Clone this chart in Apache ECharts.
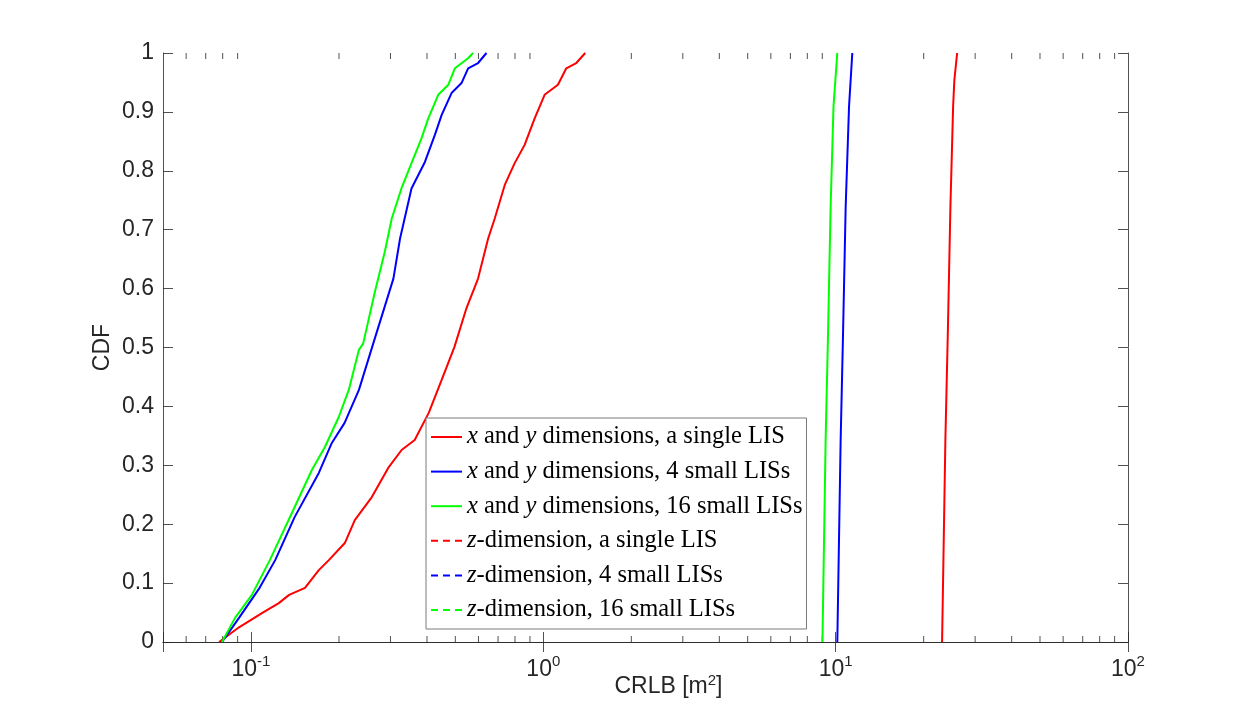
<!DOCTYPE html>
<html>
<head>
<meta charset="utf-8">
<script src="https://cdn.jsdelivr.net/npm/echarts@6/dist/echarts.min.js"></script>
<style>
  html, body { margin: 0; padding: 0; background: #fff; }
  #chart { width: 1246px; height: 721px; }
</style>
</head>
<body>
<div id="chart"></div>
<script>
// series names, in legend order
var names = [
  'x and y dimensions, a single LIS',
  'x and y dimensions, 4 small LISs',
  'x and y dimensions, 16 small LISs',
  'z-dimension, a single LIS',
  'z-dimension, 4 small LISs',
  'z-dimension, 16 small LISs'
];

// x and y dimensions (steep curves near 10 and 25)
var xySingleX = [23.12, 23.73, 24.17, 24.69, 25.22, 25.47, 26.03];
var xySingleY = [0, 0.343, 0.516, 0.739, 0.909, 0.954, 1];
var xy4X = [10.13, 10.40, 10.59, 10.82, 11.11, 11.40];
var xy4Y = [0, 0.343, 0.516, 0.739, 0.909, 1];
var xy16X = [9.01, 9.24, 9.41, 9.61, 9.83, 10.13];
var xy16Y = [0, 0.343, 0.516, 0.739, 0.909, 1];

// z-dimension
var zSingleX = [0.0778, 0.091, 0.109, 0.1245, 0.135, 0.153, 0.1706, 0.1846, 0.2094, 0.2265,
  0.259, 0.296, 0.3275, 0.363, 0.4055, 0.449, 0.4966, 0.546, 0.598, 0.6475,
  0.682, 0.738, 0.798, 0.863, 0.934, 1.01, 1.122, 1.198, 1.296, 1.391];
var zSingleY = [0, 0.025, 0.049, 0.066, 0.080, 0.092, 0.122, 0.139, 0.168, 0.207,
  0.246, 0.297, 0.326, 0.343, 0.389, 0.445, 0.501, 0.567, 0.617, 0.685,
  0.719, 0.776, 0.813, 0.844, 0.889, 0.929, 0.946, 0.974, 0.983, 1];
var z4X = [0.0796, 0.091, 0.107, 0.121, 0.141, 0.1706, 0.189, 0.209, 0.234, 0.262,
  0.307, 0.3235, 0.354, 0.3935, 0.4256, 0.449, 0.4853, 0.525, 0.553, 0.598, 0.639];
var z4Y = [0, 0.041, 0.092, 0.139, 0.212, 0.287, 0.338, 0.372, 0.428, 0.507,
  0.617, 0.685, 0.770, 0.815, 0.861, 0.895, 0.932, 0.949, 0.974, 0.983, 1];
var z16X = [0.0796, 0.0882, 0.1007, 0.116, 0.138, 0.1615, 0.179, 0.1996, 0.216, 0.234, 0.242,
  0.2655, 0.287, 0.303, 0.327, 0.354, 0.383, 0.404, 0.437, 0.473, 0.498, 0.553, 0.575];
var z16Y = [0, 0.041, 0.08, 0.139, 0.219, 0.292, 0.331, 0.382, 0.428, 0.496, 0.507,
  0.595, 0.663, 0.719, 0.770, 0.813, 0.855, 0.889, 0.929, 0.946, 0.974, 0.991, 1];

var colors = ['#ff0000', '#0000ff', '#00ff00', '#ff0000', '#0000ff', '#00ff00'];

// minor ticks of the log axis
var minorTicks = [0.06, 0.07, 0.08, 0.09,
  0.2, 0.3, 0.4, 0.5, 0.6, 0.7, 0.8, 0.9,
  2, 3, 4, 5, 6, 7, 8, 9,
  20, 30, 40, 50, 60, 70, 80, 90];

var axisColor = '#262626';
var sans = 'Liberation Sans';
var serif = 'Liberation Serif';

function pairs(xs, ys) {
  return xs.map(function (x, i) { return [x, ys[i]]; });
}

var curves = [
  pairs(xySingleX, xySingleY), pairs(xy4X, xy4Y), pairs(xy16X, xy16Y),
  pairs(zSingleX, zSingleY), pairs(z4X, z4Y), pairs(z16X, z16Y)
];

var lineSeries = names.map(function (n, i) {
  return {
    name: n,
    type: 'line',
    data: curves[i],
    symbol: 'none',
    xAxisIndex: 0,
    yAxisIndex: 0,
    lineStyle: { color: colors[i], width: 2 },
    itemStyle: { color: colors[i] },
    z: 3
  };
});

var minorSeries = {
  type: 'custom',
  silent: true,
  xAxisIndex: 0,
  yAxisIndex: 0,
  data: minorTicks.map(function (v) { return [v, 0]; }),
  encode: { x: 0, y: 1 },
  renderItem: function (params, api) {
    var v = api.value(0);
    var b = api.coord([v, 0]);
    var t = api.coord([v, 1]);
    var st = { stroke: axisColor, lineWidth: 0.8 };
    return {
      type: 'group',
      children: [
        { type: 'line', shape: { x1: b[0], y1: b[1], x2: b[0], y2: b[1] - 6 }, style: st },
        { type: 'line', shape: { x1: t[0], y1: t[1], x2: t[0], y2: t[1] + 6 }, style: st }
      ]
    };
  },
  z: 1
};

var legendData = names.map(function (n, i) {
  var item = { name: n };
  if (i >= 3) item.lineStyle = { type: [7, 5], width: 2, color: colors[i] };
  return item;
});

function logLabel(v) {
  var l = Math.log10(v);
  var e = Math.round(l);
  if (Math.abs(l - e) > 1e-6) return '';
  return '{b|10}{s|' + e + '}';
}

var xBase = {
  type: 'log',
  logBase: 10,
  min: 0.05,
  max: 100,
  axisLine: { show: true, lineStyle: { color: axisColor, width: 0.8 } },
  axisTick: { show: true, inside: true, length: 10, lineStyle: { color: axisColor, width: 0.8 } },
  splitLine: { show: false },
  minorTick: { show: false }
};

var option = {
  animation: false,
  backgroundColor: '#fff',
  grid: { left: 163, right: 118, top: 53, bottom: 79, containLabel: false },
  legend: {
    orient: 'vertical',
    left: 426,
    top: 418,
    padding: [6, 4, 6, 4],
    itemWidth: 31,
    itemHeight: 14,
    itemGap: 8.6,
    backgroundColor: '#fff',
    borderColor: '#7a7a7a',
    borderWidth: 1,
    borderRadius: 0,
    selectedMode: false,
    itemStyle: { opacity: 0 },
    data: legendData,
    textStyle: {
      fontFamily: serif,
      fontSize: 24.5,
      color: '#000',
      lineHeight: 26,
      rich: {
        i: { fontFamily: serif, fontSize: 24.5, fontStyle: 'italic', color: '#000', lineHeight: 26 }
      }
    },
    formatter: function (name) {
      return name.replace(/\b([xyz])\b/g, '{i|$1}');
    }
  },
  xAxis: [
    Object.assign({}, xBase, {
      position: 'bottom',
      name: 'CRLB [m{sup|2}]',
      nameLocation: 'middle',
      nameGap: 31,
      nameMoveOverlap: false,
      nameTextStyle: {
        fontFamily: sans, fontSize: 23, color: axisColor,
        padding: [0, 0, 0, 46], verticalAlign: 'top',
        rich: {
          sup: { fontFamily: sans, fontSize: 15, color: axisColor, verticalAlign: 'bottom', padding: [0, 0, 12, 0] }
        }
      },
      axisLabel: {
        show: true,
        margin: 12,
        formatter: logLabel,
        rich: {
          b: { fontFamily: sans, fontSize: 23, color: axisColor, verticalAlign: 'bottom' },
          s: { fontFamily: sans, fontSize: 15, color: axisColor, verticalAlign: 'bottom', padding: [0, 0, 12, 0] }
        }
      }
    }),
    Object.assign({}, xBase, {
      position: 'top',
      axisLabel: { show: false }
    })
  ],
  yAxis: [
    {
      type: 'value',
      position: 'left',
      min: 0,
      max: 1,
      interval: 0.1,
      name: 'CDF',
      nameLocation: 'middle',
      nameGap: 49,
      nameMoveOverlap: false,
      nameRotate: 90,
      nameTextStyle: { fontFamily: sans, fontSize: 23, color: axisColor },
      axisLine: { show: true, lineStyle: { color: axisColor, width: 0.8 } },
      axisTick: { show: true, inside: true, length: 10, lineStyle: { color: axisColor, width: 0.8 } },
      axisLabel: { fontFamily: sans, fontSize: 23, color: axisColor, margin: 9 },
      splitLine: { show: false }
    },
    {
      type: 'value',
      position: 'right',
      min: 0,
      max: 1,
      interval: 0.1,
      axisLine: { show: true, lineStyle: { color: axisColor, width: 0.8 } },
      axisTick: { show: true, inside: true, length: 10, lineStyle: { color: axisColor, width: 0.8 } },
      axisLabel: { show: false },
      splitLine: { show: false }
    }
  ],
  series: lineSeries.concat([minorSeries])
};

var chart = echarts.init(document.getElementById('chart'), null, { renderer: 'canvas' });
chart.setOption(option);
</script>
</body>
</html>
